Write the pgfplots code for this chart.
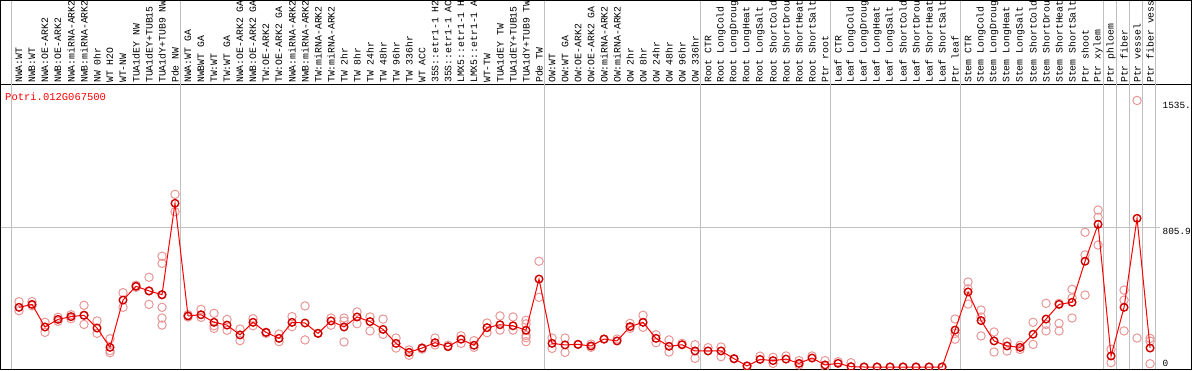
\documentclass[border=0pt]{standalone}
\usepackage{fontspec}
\usepackage{pgfplots}
\usepackage{pgfplotstable}
\pgfplotsset{compat=1.18}
\newfontfamily\monofont{Liberation Mono}
\definecolor{meanred}{RGB}{205,0,0}
\definecolor{reppink}{RGB}{232,150,150}
\definecolor{sepgrey}{RGB}{192,192,192}

\pgfplotstableread{
x y
1 346
2 363
3 232
4 276
5 292
6 300
7 226
8 114
9 388
10 468
11 441
12 419
13 949
14 296
15 303
16 259
17 243
18 186
19 259
20 201
21 166
22 259
23 255
24 195
25 267
26 232
27 290
28 263
29 218
30 137
31 85
32 110
33 141
34 118
35 161
36 126
37 228
38 245
39 239
40 213
41 510
42 137
43 128
44 131
45 122
46 162
47 151
48 234
49 259
50 166
51 120
52 129
53 93
54 93
55 93
56 48
57 6
58 44
59 37
60 46
61 21
62 52
63 12
64 21
65 2
66 0
67 0
68 0
69 0
70 0
71 0
72 0
73 214
74 435
75 269
76 151
77 122
78 114
79 190
80 278
81 363
82 375
83 613
84 827
85 64
86 346
87 862
88 110
}\meantable

\pgfplotstableread{
x y
1 379
1 326
2 379
2 355
3 259
3 201
4 288
4 265
5 303
5 280
6 358
6 247
6 300
7 267
7 195
8 164
8 95
8 83
9 431
9 346
10 474
10 462
11 520
11 363
11 441
12 642
12 601
12 346
12 284
12 243
12 419
13 1001
13 900
14 303
14 290
15 334
15 288
16 311
16 239
16 224
17 276
17 213
18 220
18 153
19 280
19 239
20 201
20 195
21 191
21 147
22 292
22 234
23 354
23 157
24 195
25 284
25 242
26 284
26 267
26 145
27 319
27 251
28 290
28 209
29 278
29 189
30 168
30 110
31 99
31 68
32 110
32 104
33 168
33 128
34 126
35 181
35 137
36 153
36 114
37 255
37 199
38 296
38 214
39 290
39 214
40 271
40 250
40 183
40 170
40 147
41 613
41 404
42 168
42 108
43 168
43 85
44 131
45 133
45 114
46 162
47 162
48 253
48 224
49 300
49 230
50 187
50 141
51 157
51 87
52 137
53 129
53 50
54 112
55 116
55 60
56 48
57 6
58 63
59 56
59 21
60 64
61 37
61 12
62 64
63 37
63 2
64 31
65 25
66 0
67 0
68 0
69 0
70 0
71 0
72 0
73 278
73 161
73 195
74 493
74 365
74 453
75 330
75 180
75 290
76 203
76 87
77 145
77 93
78 126
78 102
79 259
79 131
80 369
80 247
80 209
81 253
81 209
81 369
82 450
82 284
82 400
83 781
83 417
83 650
84 910
84 868
84 707
85 103
85 25
86 446
86 388
86 209
87 1545
87 168
88 166
88 150
88 19
}\reptable

\begin{document}
\begin{tikzpicture}
\useasboundingbox (0,0) rectangle (1194pt,370pt);
\begin{axis}[
  at={(1pt,1pt)}, anchor=south west,
  scale only axis, width=1190pt, height=284pt,
  xmin=-0.385, xmax=91.154, ymin=-11.6, ymax=1634.8,
  axis line style={black, line width=1pt},
  xtick={1,...,88},
  xticklabels={{NWA:WT},{NWB:WT},{NWA:OE-ARK2},{NWB:OE-ARK2},{NWA:miRNA-ARK2},{NWB:miRNA-ARK2},{NW 0hr},{WT H2O},{WT-NW},{TUA1dEY NW},{TUA1dEY+TUB15},{TUA1dY+TUB9 NW},{Pde NW},
    {NWA:WT GA},{NWBWT GA},{TW:WT},{TW:WT GA},{NWA:OE-ARK2 GA},{NWB:OE-ARK2 GA},{TW:OE-ARK2},{TW:OE-ARK2 GA},{NWA:miRNA-ARK2},{NWB:miRNA-ARK2},{TW:miRNA-ARK2},{TW:miRNA-ARK2},{TW 2hr},{TW 8hr},{TW 24hr},{TW 48hr},{TW 96hr},{TW 336hr},{WT ACC},{35S::etr1-1 H2},{35S::etr1-1 AC},{LMX5::etr1-1 H},{LMX5::etr1-1 A},{WT-TW},{TUA1dEY TW},{TUA1dEY+TUB15},{TUA1dY+TUB9 TW},{Pde TW},
    {OW:WT},{OW:WT GA},{OW:OE-ARK2},{OW:OE-ARK2 GA},{OW:miRNA-ARK2},{OW:miRNA-ARK2},{OW 2hr},{OW 8hr},{OW 24hr},{OW 48hr},{OW 96hr},{OW 336hr},
    {Root CTR},{Root LongCold},{Root LongDroug},{Root LongHeat},{Root LongSalt},{Root ShortCold},{Root ShortDrou},{Root ShortHeat},{Root ShortSalt},{Ptr root},
    {Leaf CTR},{Leaf LongCold},{Leaf LongDroug},{Leaf LongHeat},{Leaf LongSalt},{Leaf ShortCold},{Leaf ShortDrou},{Leaf ShortHeat},{Leaf ShortSalt},{Ptr leaf},
    {Stem CTR},{Stem LongCold},{Stem LongDroug},{Stem LongHeat},{Stem LongSalt},{Stem ShortCold},{Stem ShortDrou},{Stem ShortHeat},{Stem ShortSalt},{Ptr shoot},{Ptr xylem},
    {Ptr phloem},{Ptr fiber},{Ptr vessel},{Ptr fiber vess}},
  xticklabel pos=upper,
  x tick label style={rotate=90, anchor=west, font=\monofont\fontsize{9.8pt}{10pt}\selectfont, inner xsep=2pt, inner ysep=0pt},
  major tick length=0pt,
  ytick=\empty,
  clip mode=individual, clip marker paths=true,
]
\pgfplotsinvokeforeach{0.385,13.385,41.385,53.385,63.385,73.385,84.385,85.385,86.385,87.385,88.385}{
  \draw[sepgrey, line width=1pt] (axis cs:#1,-11.6) -- (axis cs:#1,2124.7);
}
\draw[sepgrey, line width=1pt] (axis cs:-0.385,805.9) -- (axis cs:88.8,805.9);
\draw[black, line width=1pt] (axis cs:-0.385,1634.8) -- (axis cs:-0.385,2124.7) -- (axis cs:91.154,2124.7) -- (axis cs:91.154,1634.8);

\addplot[only marks, mark=o, mark size=4.2pt, mark options={draw=reppink, line width=1pt}] table[x=x,y=y]{\reptable};
\addplot[red, line width=1pt, mark=o, mark size=3.8pt, mark options={draw=meanred, line width=1.4pt}] table[x=x,y=y]{\meantable};

\node[anchor=west, inner sep=0pt, text=red, font=\monofont\fontsize{10.5pt}{11pt}\selectfont] at (axis cs:-0.077,1565) {Potri.012G067500};
\node[anchor=north west, inner sep=0pt, font=\monofont\fontsize{9.4pt}{10pt}\selectfont] at (axis cs:88.95,1535) {1535.};
\node[anchor=north west, inner sep=0pt, font=\monofont\fontsize{9.4pt}{10pt}\selectfont] at (axis cs:88.95,805.9) {805.9};
\node[anchor=base west, inner sep=0pt, font=\monofont\fontsize{9.4pt}{10pt}\selectfont] at (axis cs:88.95,3) {0};
\end{axis}
\end{tikzpicture}
\end{document}
